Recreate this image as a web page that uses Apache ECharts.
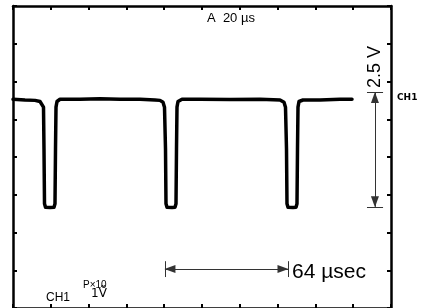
<!DOCTYPE html>
<html>
<head>
<meta charset="utf-8">
<script src="https://cdn.jsdelivr.net/npm/echarts@6/dist/echarts.min.js"></script>
<style>html,body{margin:0;padding:0;background:#fff}#c{width:423px;height:308px}</style>
</head>
<body>
<div id="c"></div>
<script>
var timeMin = 0, timeMax = 200, timeStep = 20;
var divMin = 0, divMax = 8, divStep = 1;

var traceTime = [0, 6.35, 11.64, 14.29, 15.34, 16.14, 16.40, 16.67, 17.20, 19.58, 21.69, 22.22, 22.49, 22.75, 23.28, 24.87,
  35.45, 46.03, 56.61, 67.20, 75.13, 77.78, 79.37, 80.16, 80.69, 80.95, 81.48, 84.13, 85.71, 86.24, 86.51, 86.77, 87.30, 89.42,
  98.94, 114.81, 130.69, 141.27, 143.39, 144.18, 144.71, 144.97, 145.50, 148.15, 149.74, 150.26, 150.53, 150.79, 151.32, 153.44,
  162.43, 173.02, 179.37];
var traceLevel = [5.53, 5.51, 5.50, 5.47, 5.42, 5.32, 4.21, 2.76, 2.67, 2.66, 2.67, 2.76, 4.21, 5.32, 5.47, 5.53,
  5.53, 5.54, 5.53, 5.53, 5.51, 5.50, 5.45, 5.32, 4.21, 2.76, 2.67, 2.66, 2.67, 2.76, 4.21, 5.32, 5.47, 5.53,
  5.53, 5.52, 5.53, 5.51, 5.45, 5.32, 4.21, 2.76, 2.67, 2.66, 2.67, 2.76, 4.21, 5.32, 5.47, 5.51,
  5.51, 5.53, 5.53];

var periodStart = 80.4, periodEnd = 145.5, periodLevel = 1.03, periodBarLo = 0.82, periodBarHi = 1.24;
var ampTime = 191.5, ampTop = 5.71, ampBottom = 2.68, ampBarLo = 187.3, ampBarHi = 195.8;

var timebaseText = 'A  20 µs';
var ampText = '2.5 V';
var periodText = '64 µsec';
var chText = 'CH1';
var probeText = 'P×10';
var voltsText = '1Ṽ';

var trace = traceTime.map(function (t, i) { return [t, traceLevel[i]]; });

var chart = echarts.init(document.getElementById('c'), null, {renderer: 'canvas'});

var lineCol = '#333';
var arrowSeg = function (a, b) {
  return [{coord: a, symbol: 'triangle', symbolSize: [8, 11], symbolOffset: [0, 5]},
          {coord: b, symbol: 'triangle', symbolSize: [8, 11], symbolOffset: [0, 5]}];
};
var barSeg = function (a, b) {
  return [{coord: a, symbol: 'none'}, {coord: b, symbol: 'none'}];
};

function mkAxis(extra) {
  return Object.assign({
    type: 'value',
    axisLine: {show: true, onZero: false, lineStyle: {color: '#000', width: 2.5}},
    axisTick: {show: true, inside: true, length: 4, lineStyle: {color: '#000', width: 2}},
    axisLabel: {show: false},
    splitLine: {show: false}
  }, extra);
}

chart.setOption({
  animation: false,
  backgroundColor: '#fff',
  grid: {left: 13, top: 6, width: 378, height: 304, show: false},
  xAxis: [
    mkAxis({min: timeMin, max: timeMax, interval: timeStep, position: 'bottom'}),
    mkAxis({min: timeMin, max: timeMax, interval: timeStep, position: 'top'})
  ],
  yAxis: [
    mkAxis({min: divMin, max: divMax, interval: divStep, position: 'left'}),
    mkAxis({min: divMin, max: divMax, interval: divStep, position: 'right'})
  ],
  series: [{
    type: 'line',
    data: trace,
    showSymbol: false,
    smooth: false,
    lineStyle: {color: '#000', width: 3.5, join: 'round', cap: 'round'},
    markLine: {
      silent: true,
      animation: false,
      label: {show: false},
      lineStyle: {color: lineCol, width: 1, type: 'solid'},
      itemStyle: {color: '#000'},
      data: [
        arrowSeg([periodStart, periodLevel], [periodEnd, periodLevel]),
        barSeg([periodStart, periodBarLo], [periodStart, periodBarHi]),
        barSeg([periodEnd, periodBarLo], [periodEnd, periodBarHi]),
        arrowSeg([ampTime, ampTop], [ampTime, ampBottom]),
        barSeg([ampBarLo, ampTop], [ampBarHi, ampTop]),
        barSeg([ampBarLo, ampBottom], [ampBarHi, ampBottom])
      ]
    }
  }],
  graphic: [
    {type: 'text', left: 207, top: 12, style: {text: timebaseText, font: '13px "Liberation Sans", Arial', fill: '#000'}},
    {type: 'text', x: 366, y: 88, rotation: Math.PI / 2, style: {text: ampText, font: '18px "Liberation Sans", Arial', fill: '#000', textAlign: 'left', textVerticalAlign: 'top'}},
    {type: 'text', left: 397, top: 93, style: {text: chText, font: 'bold 9px "DejaVu Sans"', fill: '#000'}},
    {type: 'text', left: 292, top: 262, style: {text: periodText, font: '21px "Liberation Sans", Arial', fill: '#000'}},
    {type: 'text', left: 83, top: 280, style: {text: probeText, font: '10px "Liberation Sans", Arial', fill: '#000'}},
    {type: 'text', left: 46, top: 292, style: {text: chText, font: '12px "Liberation Sans", Arial', fill: '#000'}},
    {type: 'text', left: 91, top: 288, style: {text: voltsText, font: '12px "DejaVu Sans", "Liberation Sans"', fill: '#000'}}
  ]
});
</script>
</body>
</html>
